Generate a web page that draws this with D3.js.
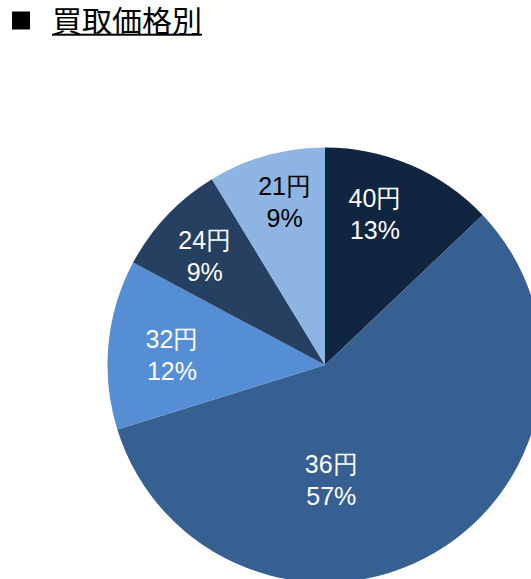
<!DOCTYPE html>
<html><head><meta charset="utf-8">
<script src="https://cdn.jsdelivr.net/npm/d3@7"></script>
<style>body{margin:0;background:#fff;}svg{display:block;}</style>
</head><body>
<script>
const categories = ["40円", "36円", "32円", "24円", "21円"];
const shares = [12.9, 57.3, 12.6, 8.5, 8.7];
const percentLabels = ["13%", "57%", "12%", "9%", "9%"];
const colors = ["#10253F", "#376092", "#558ED5", "#254061", "#8DB4E2"];
const textColors = ["#fff", "#fff", "#fff", "#fff", "#000"];
// label placement: [angle offset (deg), radius fraction]
const labelPlace = [[-4.9, 0.73], [27.3, 0.53], [-1.7, 0.705], [-1.3, 0.745], [1.7, 0.77]];

const W = 531, H = 579;
const svg = d3.select("body").append("svg").attr("width", W).attr("height", H);

// title
svg.append("rect").attr("x", 12).attr("y", 11.5).attr("width", 18).attr("height", 18).attr("fill", "#000");
const title = svg.append("text").attr("x", 52).attr("y", 32)
  .attr("font-family", "'Noto Sans CJK JP', sans-serif").attr("font-size", 30)
  .attr("fill", "#000").text("買取価格別");
const tw = title.node().getComputedTextLength();
svg.append("rect").attr("x", 52).attr("y", 33.7).attr("width", tw).attr("height", 2).attr("fill", "#000");

const cx = 325, cy = 365, R = 217.5;
const g = svg.append("g").attr("transform", `translate(${cx},${cy})`);
const pie = d3.pie().sort(null).value(d => d)(shares);
const arc = d3.arc().innerRadius(0).outerRadius(R);

g.selectAll("path").data(pie).join("path")
  .attr("d", arc).attr("fill", (d, i) => colors[i]);

const lab = g.selectAll("g.lab").data(pie).join("g").attr("class", "lab")
  .attr("transform", (d, i) => {
    const a = (d.startAngle + d.endAngle) / 2 + labelPlace[i][0] * Math.PI / 180;
    const r = labelPlace[i][1] * R;
    return `translate(${r * Math.sin(a)},${-r * Math.cos(a)})`;
  });
lab.append("text").attr("text-anchor", "middle").attr("y", -7)
  .attr("font-family", "'Liberation Sans', Arial, sans-serif").attr("font-size", 25)
  .attr("fill", (d, i) => textColors[i]).text((d, i) => categories[i]);
lab.append("text").attr("text-anchor", "middle").attr("y", 25)
  .attr("font-family", "'Liberation Sans', Arial, sans-serif").attr("font-size", 25)
  .attr("fill", (d, i) => textColors[i]).text((d, i) => percentLabels[i]);
</script>
</body></html>
